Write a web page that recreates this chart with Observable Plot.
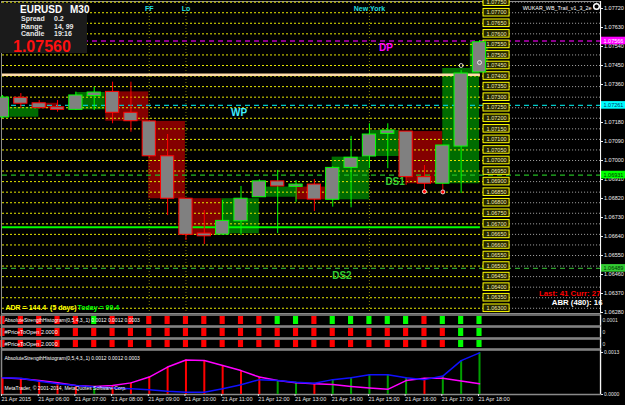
<!DOCTYPE html>
<html><head><meta charset="utf-8">
<script src="https://cdn.jsdelivr.net/npm/d3@7"></script>
<script src="https://cdn.jsdelivr.net/npm/@observablehq/plot@0.6"></script>
<style>
html,body{margin:0;padding:0;background:#000;}
#chart{position:relative;width:625px;height:405px;background:#000;overflow:hidden;font-family:"Liberation Sans",Arial,sans-serif;}
#chart svg{position:absolute;left:0;}
.info{position:absolute;left:0;top:3px;width:87px;height:50px;background:#1b1b1b;color:#fff;font-weight:bold;white-space:nowrap;}
.info div{position:absolute;line-height:1;}
</style></head>
<body><div id="chart"></div>
<script>
// ---------- data ----------
const symbol = "EURUSD", timeframe = "M30";
const infoLabels = ["Spread", "Range", "Candle"];
const infoValues = ["0.2", "14, 99", "19:16"];
const lastPrice = "1.07560";

const timeTicks  = [0, 2, 4, 6, 8, 10, 12, 14, 16, 18, 20, 22, 24, 26];
const timeLabels = ["21 Apr 2015","21 Apr 06:00","21 Apr 07:00","21 Apr 08:00","21 Apr 09:00","21 Apr 10:00",
  "21 Apr 11:00","21 Apr 12:00","21 Apr 13:00","21 Apr 14:00","21 Apr 15:00","21 Apr 16:00","21 Apr 17:00","21 Apr 18:00"];

const opens  = [1.07204,1.07297,1.07271,1.07252,1.07240,1.07305,1.07325,1.07226,1.07185,1.07020,1.06819,1.06654,1.06649,1.06712,1.06826,1.06901,1.06875,1.06886,1.06814,1.06965,1.07019,1.07126,1.07137,1.06921,1.06890,1.07066,1.07417];
const highs  = [1.07308,1.07317,1.07284,1.07284,1.07324,1.07347,1.07371,1.07371,1.07190,1.07123,1.06819,1.06763,1.06811,1.06877,1.06909,1.06953,1.06905,1.06910,1.06970,1.07114,1.07174,1.07174,1.07137,1.06976,1.07071,1.07426,1.07568];
const lows   = [1.07199,1.07246,1.07246,1.07229,1.07237,1.07237,1.07174,1.07134,1.07015,1.06739,1.06621,1.06602,1.06645,1.06645,1.06826,1.06654,1.06802,1.06758,1.06779,1.06776,1.06961,1.06961,1.06882,1.06850,1.06858,1.06844,1.07417];
const closes = [1.07298,1.07269,1.07248,1.07240,1.07308,1.07322,1.07226,1.07186,1.07020,1.06819,1.06648,1.06641,1.06714,1.06819,1.06901,1.06877,1.06886,1.06815,1.06965,1.07013,1.07123,1.07142,1.06921,1.06890,1.07071,1.07412,1.07560];
const wickDirs = ["g","r","r","r","g","g","r","r","r","r","r","r","g","g","g","g","g","r","g","g","g","g","r","r","r","g","g"];

const boxStart  = [0.4, 2.0, 4.0, 5.63, 7.97, 9.97, 11.97, 14.0, 16.0, 17.97, 20.0, 22.05, 24.0, 25.5];
const boxEnd    = [1.98, 3.0, 5.6, 7.97, 9.97, 11.97, 14.0, 15.97, 17.6, 20.0, 21.65, 24.0, 26.0, 26.5];
const boxTop    = [1.07252,1.07271,1.07322,1.07325,1.07185,1.06819,1.06819,1.06874,1.06874,1.07016,1.07142,1.07137,1.07436,1.07559];
const boxBottom = [1.07205,1.07245,1.07240,1.07186,1.06819,1.06645,1.06653,1.06826,1.06814,1.06814,1.07019,1.06890,1.06890,1.07426];
const boxDirs   = ["g","r","g","r","r","r","g","g","r","g","g","r","g","g"];

const levelPrices = [1.0775,1.0770,1.0765,1.0760,1.0755,1.0750,1.0745,1.0740,1.0735,1.0730,1.0725,1.0720,1.0715,1.0710,1.0705,
  1.0700,1.0695,1.0690,1.0685,1.0680,1.0675,1.0670,1.0665,1.0660,1.0655,1.0650,1.0645,1.0640,1.0635,1.0630];
// 1.07270 is hidden under the WP price tag in the reference
const axisTicks = [1.0772,1.0763,1.0754,1.0745,1.0736,1.0718,1.0709,1.0700,1.0691,1.0682,1.0673,1.0664,1.0655,1.0646,1.0637,1.0628];

const pivotNames  = ["DP", "WP", "DS1", "DS2"];
const pivotPrices = [1.07566, 1.07261, 1.06931, 1.06489];
const pivotLabelBars = [20.9, 12.9, 21.4, 18.5];
const dayHigh = 1.07406;
const supportLine = 1.06684;

const sessionNames = ["FF", "Lo", "New York"];
const sessionBars  = [8, 10, 20];

const markerBars   = [23, 24, 25, 26];
const markerPrices = [1.06853, 1.06851, 1.07450, 1.07464];
const markerKinds  = ["r", "r", "w", "w"];

const ashColors   = ["r","r","r","r","r","g","r","r","r","r","r","r","r","r","r","g","g","r","g","g","g","g","g","r","g","g","g"];
const ptoColors   = ["r","r","r","r","r","r","r","r","r","r","r","r","r","r","r","r","r","r","r","r","r","r","r","r","r","g","g"];
const ashMain   = [0.00052,0.00049,0.00043,0.00036,0.00028,0.00025,0.00028,0.00036,0.00054,0.00085,0.00107,0.00105,0.00090,0.00074,0.00054,0.00043,0.00036,0.00033,0.00031,0.00025,0.00020,0.00016,0.00043,0.00050,0.00050,0.00042,0.00033];
const ashSignal = [0.00052,0.00050,0.00041,0.00033,0.00028,0.00023,0.00020,0.00018,0.00015,0.00010,0.00007,0.00007,0.00018,0.00030,0.00046,0.00043,0.00038,0.00035,0.00046,0.00052,0.00061,0.00061,0.00052,0.00046,0.00057,0.00105,0.00129];

const ashLabel = "AbsoluteStrengthHistogram(0,5,4,3,,1) 0.0012 0.0012 0.0003";
const ptoLabel = "#PriceToOpen 2.0000";
const indicatorName = "WUKAR_WB_Trail_v1_3_2e";
const adrText = "ADR = 144.4  (5 days)", todayText = "Today = 99.4";
const lastCurrText = "Last: 41 Curr: 27", abrText = "ABR (480): 16";
const copyright = "MetaTrader, \u00A9 2001-2014, MetaQuotes Software Corp.";

// ---------- layout ----------
const FONT = "'Liberation Sans', Arial, sans-serif";
const X = {domain: [0, 26], range: [2, 479]};
const AXIS_IDX = 32.6;      // bar-index position of the right price axis (x=600)
const LINE_END = 26.05, TAG_L = 26.22, TAG_R = 27.64, TAG_MID = 26.93, EDGE = 34.2, PTAG_MID = 33.3;
const PX = 21111;            // pixels per price unit
const baseStyle = {background: "transparent", color: "white", fontFamily: FONT, fontSize: "5.5px", overflow: "visible"};
const GREEN = "#00ff00", RED = "#ff0000";
const n = opens.length;
const bars = d3.range(n).map(i => ({i, o: opens[i], h: highs[i], l: lows[i], c: closes[i], up: closes[i] >= opens[i], w: wickDirs[i]}));
const boxes = boxStart.map((s, k) => ({x1: s, x2: boxEnd[k], y1: boxBottom[k], y2: boxTop[k], d: boxDirs[k]}));
const pivotLine = ["#8b008b", "#00c8c8", "#22bb22", "#2e9e2e"];
const pivotText = ["#ff00ff", "#40f0ff", "#33cc33", "#33cc33"];
const pivotTagFill = ["#ff00ff", "#00ffff", "#00ff00", "#33cc33"];
const pivotTagText = ["#ffffff", "#003366", "#003300", "#003300"];
const pivots = pivotNames.map((name, k) => ({name, p: pivotPrices[k], lx: pivotLabelBars[k], k}));
const sessions = sessionNames.map((name, k) => ({name, i: sessionBars[k]}));
const markers = markerBars.map((i, k) => ({i, p: markerPrices[k], kind: markerKinds[k]}));
const halfTag = 0.00018;

const chart = document.getElementById("chart");
function place(svg, top) { svg.style.top = top + "px"; chart.appendChild(svg); }

// ---------- main price pane ----------
const main = Plot.plot({
  width: 625, height: 314, marginTop: 1, marginBottom: 1, marginLeft: 1, marginRight: 25,
  x: {...X, axis: null},
  y: {domain: [1.0628, 1.0775], range: [160 + 0.0072 * PX, 160 - 0.0075 * PX], axis: null},
  style: baseStyle,
  marks: [
    Plot.frame({stroke: "#8a8a8a"}),
    Plot.rect(boxes, {x1: "x1", x2: "x2", y1: "y1", y2: "y2", fill: d => d.d === "g" ? "#006c00" : "#840000"}),
    Plot.ruleX(sessions, {x: "i", stroke: "#7a7a00", strokeDasharray: "1,2"}),
    Plot.ruleY(levelPrices, {x1: 0, x2: TAG_L, stroke: "#e6e600", strokeDasharray: "2,2"}),
    Plot.ruleY(levelPrices, {x1: TAG_R, x2: AXIS_IDX, stroke: "#a8a8a8", strokeDasharray: "1,2"}),
    Plot.ruleY([dayHigh], {x1: 0, x2: LINE_END, stroke: "#ffdcaa", strokeWidth: 2.5}),
    Plot.ruleY([supportLine], {x1: 0, x2: LINE_END, stroke: GREEN, strokeWidth: 2}),
    Plot.ruleY(pivots, {y: "p", x1: 0, x2: AXIS_IDX, stroke: d => pivotLine[d.k], strokeWidth: d => d.k === 0 ? 2 : 1.2, strokeDasharray: "5,4"}),
    Plot.rect(levelPrices, {x1: TAG_L, x2: TAG_R, y1: d => d - halfTag, y2: d => d + halfTag, fill: "#262600", stroke: "#ffff00", strokeWidth: 1}),
    Plot.text(levelPrices, {x: TAG_MID, y: d => d, text: d => d.toFixed(5), fill: "#f2f2b0", fontSize: 5.5}),
    Plot.ruleX(bars, {x: "i", y1: "l", y2: "h", stroke: d => d.w === "g" ? GREEN : RED}),
    Plot.rect(bars, {x1: d => d.i - 0.36, x2: d => d.i + 0.36, y1: "o", y2: "c", fill: "#808080", stroke: d => d.up ? GREEN : RED, strokeWidth: 1}),
    Plot.dot(markers, {x: "i", y: "p", r: 2, fill: d => d.kind === "r" ? RED : "none", stroke: "white", strokeWidth: 0.8}),
    Plot.text(pivots, {x: "lx", y: "p", text: "name", dy: 7, fill: d => pivotText[d.k], fontSize: 10, fontWeight: "bold"}),
    Plot.text(sessions, {x: "i", text: "name", frameAnchor: "top", dy: 5, fill: "#22dddd", fontSize: 7, fontWeight: "bold"}),
    Plot.axisY({anchor: "right", ticks: axisTicks, tickFormat: d => d.toFixed(5), tickSize: 2, tickPadding: 1.5, color: "#eeeeee", fontSize: 5.5, label: null}),
    Plot.rect(pivots, {x1: AXIS_IDX, x2: EDGE, y1: d => d.p - halfTag, y2: d => d.p + halfTag, fill: d => pivotTagFill[d.k]}),
    Plot.text(pivots, {x: PTAG_MID, y: "p", text: d => d.p.toFixed(5), fill: d => pivotTagText[d.k], fontSize: 5.5}),
    Plot.ruleX([AXIS_IDX], {stroke: "white"}),
    Plot.text([indicatorName], {frameAnchor: "top-right", dx: -9, dy: 5, text: d => d, textAnchor: "end", fill: "white", fontSize: 5.4}),
    Plot.dot([indicatorName], {frameAnchor: "top-right", dx: -4, dy: 5, r: 2.8, stroke: "white", fill: "none"}),
    Plot.text([lastCurrText], {frameAnchor: "bottom-right", dy: -18, dx: 0, text: d => d, textAnchor: "end", fill: RED, fontSize: 7.8, fontWeight: "bold"}),
    Plot.text([abrText], {frameAnchor: "bottom-right", dy: -9, dx: 2, text: d => d, textAnchor: "end", fill: "white", fontSize: 7.8, fontWeight: "bold"}),
    Plot.text([adrText], {frameAnchor: "bottom-left", dx: 4, dy: -4, text: d => d, textAnchor: "start", fill: "#ffff00", fontSize: 7, fontWeight: "bold"}),
    Plot.text([todayText], {frameAnchor: "bottom-left", dx: 76, dy: -4, text: d => d, textAnchor: "start", fill: GREEN, fontSize: 7, fontWeight: "bold"})
  ]
});
place(main, 0);

// ---------- small colour-bar panes ----------
function barPane(colors, label, rightLabel, h, labelSize) {
  const data = colors.map((c, i) => ({i, c}));
  return Plot.plot({
    width: 625, height: h, marginTop: 0.5, marginBottom: 0.5, marginLeft: 1, marginRight: 25,
    x: {...X, axis: null}, y: {domain: [0, 1], range: [h - 2, 2], axis: null},
    style: baseStyle,
    marks: [
      Plot.rect(data, {x1: d => d.i - 0.14, x2: d => d.i + 0.14, y1: 0, y2: 1, fill: d => d.c === "g" ? GREEN : RED}),
      Plot.text([label], {frameAnchor: "left", dx: 3, text: d => d, textAnchor: "start", fill: "white", fontSize: labelSize}),
      Plot.text([rightLabel], {frameAnchor: "right", dx: 2, text: d => d, textAnchor: "start", fill: "#dddddd", fontSize: 5}),
      Plot.frame({stroke: "#8a8a8a", strokeWidth: 1.5}),
      Plot.ruleX([AXIS_IDX], {stroke: "white"})
    ]
  });
}
place(barPane(ashColors, ashLabel, "0.0001", 12, 5), 314);
place(barPane(ptoColors, ptoLabel, "0", 12, 5.5), 326);
place(barPane(ptoColors, ptoLabel, "0", 11, 5.5), 338);

// ---------- histogram pane ----------
const ash = d3.range(n).map(i => ({i, m: ashMain[i], s: ashSignal[i], c: ashColors[i]}));
const pane5 = Plot.plot({
  width: 625, height: 56, marginTop: 0.5, marginBottom: 11, marginLeft: 1, marginRight: 25,
  x: {...X}, y: {domain: [0, 0.0013], range: [45, 3]},
  style: baseStyle,
  marks: [
    Plot.frame({stroke: "#8a8a8a", strokeWidth: 1.5}),
    Plot.ruleX(ash, {x: "i", y1: 0, y2: d => Math.max(d.m, d.s), stroke: d => d.c === "g" ? "#00a000" : RED, strokeWidth: 2}),
    Plot.line(ash, {x: "i", y: "m", stroke: "#ff00ff", strokeWidth: 1.5}),
    Plot.line(ash, {x: "i", y: "s", stroke: "#1010ff", strokeWidth: 1.5}),
    Plot.text([ashLabel], {frameAnchor: "top-left", dx: 3, dy: 6, text: d => d, textAnchor: "start", fill: "white", fontSize: 5}),
    Plot.text([copyright], {frameAnchor: "bottom-left", dx: 3, dy: -5, text: d => d, textAnchor: "start", fill: "white", fontSize: 5}),
    Plot.axisX({ticks: timeTicks, tickFormat: i => timeLabels[timeTicks.indexOf(i)], tickSize: 2, tickPadding: 1, textAnchor: "start", dx: -1, color: "#e6e6e6", fontSize: 5.5, label: null}),
    Plot.axisY({anchor: "right", ticks: [0.0013, 0], tickFormat: d => d.toFixed(4), tickSize: 2, tickPadding: 1.5, color: "#e6e6e6", fontSize: 5, label: null}),
    Plot.ruleX([AXIS_IDX], {stroke: "white"})
  ]
});
place(pane5, 349);

// ---------- info panel ----------
const info = document.createElement("div");
info.className = "info";
const add = (txt, left, top, size, color) => {
  const d = document.createElement("div");
  d.textContent = txt; d.style.left = left + "px"; d.style.top = top + "px";
  d.style.fontSize = size + "px"; d.style.color = color; info.appendChild(d);
};
add(symbol, 20, 2, 10, "#ffffff");
add(timeframe, 70, 2, 10, "#ffffff");
infoLabels.forEach((lab, k) => {
  add(lab, 21, 12 + k * 7.5, 7, "#e8e8e8");
  add(infoValues[k], 54, 12 + k * 7.5, 7, "#e8e8e8");
});
add(lastPrice, 13, 36, 16, "#ff1010");
chart.appendChild(info);
</script>
</body></html>
